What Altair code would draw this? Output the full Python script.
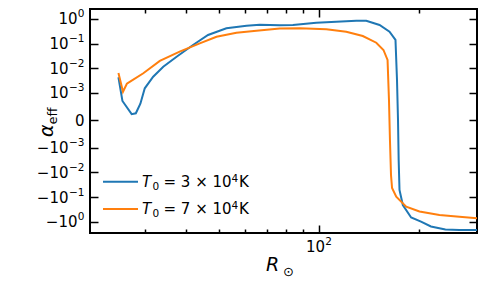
import altair as alt
import pandas as pd
import math

# ---- data ----
r_blue = [25.0, 25.7, 27.4, 28.2, 29.1, 30.0, 31.8, 34.1, 37.4, 41.9, 46.5, 52.8, 60.7, 66.5,
          76.4, 83.7, 98.4, 113.0, 129.8, 139.1, 152.5, 163.4, 170.3, 172.1, 173.3, 174.1,
          175.1, 179.2, 189.8, 203.2, 217.7, 240.6, 265.1, 300.3]
a_blue = [0.00432, 0.000706, 0.000224, 0.000257, 0.000607, 0.00154, 0.00456, 0.0116, 0.0295,
          0.0881, 0.224, 0.419, 0.535, 0.581, 0.560, 0.571, 0.708, 0.776, 0.853, 0.853, 0.571,
          0.305, 0.141, 0.00335, 0.000012, -0.00315, -0.0519, -0.211, -0.678, -1.00, -1.57,
          -2.08, -2.18, -2.18]
r_orange = [25.0, 25.8, 26.5, 27.1, 29.7, 33.3, 38.2, 43.9, 49.3, 56.6, 65.0, 76.4, 87.7, 105.5,
            121.1, 135.8, 149.1, 156.7, 161.2, 162.8, 163.9, 165.1, 166.3, 171.2, 183.4, 201.1,
            230.9, 265.1, 300.3]
a_orange = [0.00644, 0.00112, 0.00237, 0.00286, 0.00627, 0.0198, 0.0471, 0.103, 0.191, 0.278,
            0.335, 0.411, 0.419, 0.382, 0.305, 0.204, 0.109, 0.0552, 0.0217, 0.000742, -0.000718,
            -0.0128, -0.0431, -0.0971, -0.247, -0.387, -0.537, -0.630, -0.729]
series_names = ["T0=3e4K", "T0=7e4K"]
series_colors = ["#1f77b4", "#ff7f0e"]
legend_coef = ["3", "7"]

# y ticks: value, mantissa, exponent
y_tick_values = [1, 0.1, 0.01, 0.001, 0, -0.001, -0.01, -0.1, -1]
y_tick_mant = ["10", "10", "10", "10", "0", "\u221210", "\u221210", "\u221210", "\u221210"]
y_tick_exp = ["0", "\u22121", "\u22122", "\u22123", "", "\u22123", "\u22122", "\u22121", "0"]
x_major_ticks = [100]
x_major_mant = "10"
x_major_exp = "2"
x_minor_ticks = [30, 40, 50, 60, 70, 80, 90, 200]

# matplotlib-like symlog (linthresh 1e-3, linscale 1)
LT = 1e-3
LS = 1.0 / (1.0 - 0.1)


def symlog(v):
    if v > LT:
        return LS + math.log10(v / LT)
    if v < -LT:
        return -(LS + math.log10(-v / LT))
    return v / LT * LS


symlog_expr = (
    f"datum.alpha > {LT} ? {LS} + log(datum.alpha/{LT})/LN10 : "
    f"(datum.alpha < -{LT} ? -({LS} + log(-datum.alpha/{LT})/LN10) : datum.alpha/{LT}*{LS})"
)

rows = []
for name, rs, als in [(series_names[0], r_blue, a_blue), (series_names[1], r_orange, a_orange)]:
    for i, (r, a) in enumerate(zip(rs, als)):
        rows.append({"R": r, "alpha": a, "series": name, "idx": i})
df = pd.DataFrame(rows)

y_pos = [symlog(v) for v in y_tick_values]


def make_expr(pairs):
    e = "''"
    for p, lab in reversed(pairs):
        e = f"abs(datum.value - ({p:.5f})) < 0.01 ? '{lab}' : ({e})"
    return e


pos_unit = [p for p, x in zip(y_pos, y_tick_exp) if x == "0"]
pos_neg = [p for p, x in zip(y_pos, y_tick_exp) if x not in ("0", "")]
pos_zero = [p for p, x in zip(y_pos, y_tick_exp) if x == ""]
pos_exp = [p for p, x in zip(y_pos, y_tick_exp) if x != ""]
mant_pairs = list(zip(y_pos, y_tick_mant))
exp_pairs = list(zip(y_pos, y_tick_exp))

FONT = "DejaVu Sans"
FS = 15
FS_SUP = 10.5
xs = alt.Scale(type="log", domain=[20.53, 299.5], nice=False)
ys = alt.Scale(domain=[-4.571, 4.516], nice=False, zero=False)

common = dict(domain=False, grid=False, title=None, tickColor="black", tickWidth=1.5,
              labelFont=FONT, labelColor="black", labelFlush=False,
              labelOverlap=False, labelBound=False)

# tick-only axes (inward ticks via negative offset)
ax_b_major = alt.Axis(orient="bottom", values=x_major_ticks, labels=False, tickSize=8, offset=-8, **common)
ax_t_major = alt.Axis(orient="top", values=x_major_ticks, labels=False, tickSize=8, offset=-8, **common)
ax_b_minor = alt.Axis(orient="bottom", values=x_minor_ticks, labels=False, tickSize=4, offset=-4, **common)
ax_t_minor = alt.Axis(orient="top", values=x_minor_ticks, labels=False, tickSize=4, offset=-4, **common)
ax_l_ticks = alt.Axis(orient="left", values=y_pos, labels=False, tickSize=8, offset=-8, **common)
ax_r_ticks = alt.Axis(orient="right", values=y_pos, labels=False, tickSize=8, offset=-8, **common)

# label-only axes (mathtext-like: mantissa + raised smaller exponent)
ax_x_mant = alt.Axis(orient="bottom", values=x_major_ticks, ticks=False, tickSize=0,
                     labelExpr=f"'{x_major_mant}'", labelFontSize=FS, labelAlign="center",
                     labelOffset=-3.5, labelPadding=6, **common)
ax_x_exp = alt.Axis(orient="bottom", values=x_major_ticks, ticks=False, tickSize=0,
                    labelExpr=f"'{x_major_exp}'", labelFontSize=FS_SUP, labelAlign="center",
                    labelOffset=9.5, labelPadding=3, **common)
ax_y_mant_unit = alt.Axis(orient="left", values=pos_unit, ticks=False, tickSize=0,
                          labelExpr=make_expr(mant_pairs), labelFontSize=FS, labelAlign="right",
                          labelPadding=13, **common)
ax_y_mant_neg = alt.Axis(orient="left", values=pos_neg, ticks=False, tickSize=0,
                         labelExpr=make_expr(mant_pairs), labelFontSize=FS, labelAlign="right",
                         labelPadding=22, **common)
ax_y_exp = alt.Axis(orient="left", values=pos_exp, ticks=False, tickSize=0,
                    labelExpr=make_expr(exp_pairs), labelFontSize=FS_SUP, labelAlign="right",
                    labelOffset=-5, labelPadding=6, **common)
ax_y_zero = alt.Axis(orient="left", values=pos_zero, ticks=False, tickSize=0,
                     labelExpr=make_expr(mant_pairs), labelFontSize=FS, labelAlign="right",
                     labelPadding=6, **common)

base = alt.Chart(df).transform_calculate(f=symlog_expr)

lines = base.mark_line(strokeWidth=2, clip=True).encode(
    x=alt.X("R:Q", scale=xs, axis=ax_b_major),
    y=alt.Y("f:Q", scale=ys, axis=ax_l_ticks),
    color=alt.Color("series:N", scale=alt.Scale(domain=series_names, range=series_colors),
                    legend=None),
    order="idx:Q",
)


def ghost(xax, yax):
    return base.mark_line(opacity=0).encode(
        x=alt.X("R:Q", scale=xs, axis=xax),
        y=alt.Y("f:Q", scale=ys, axis=yax), detail="series:N", order="idx:Q")


ghosts = [
    ghost(ax_t_major, ax_r_ticks),
    ghost(ax_b_minor, None),
    ghost(ax_t_minor, None),
    ghost(ax_x_mant, ax_y_mant_unit),
    ghost(ax_x_exp, ax_y_mant_neg),
    ghost(None, ax_y_exp),
    ghost(None, ax_y_zero),
]

one = alt.Data(values=[{}])
OX, OY = 90, 9  # plot origin in page pixels (for decorations)


def txt(s, x, y, size=FS, style="normal", angle=0):
    kw = dict(font=FONT, fontSize=size, fontStyle=style, align="left", baseline="alphabetic",
              color="black")
    if angle:
        kw["angle"] = angle
    return alt.Chart(one).mark_text(**kw).encode(x=alt.value(x - OX), y=alt.value(y - OY),
                                                    text=alt.value(s))


extras = []
# legend (drawn by hand, matplotlib style without frame)
for k in range(2):
    ly = 181.7 + 27.3 * k
    extras.append(alt.Chart(one).mark_rule(color=series_colors[k], strokeWidth=2).encode(
        x=alt.value(103 - OX), x2=alt.value(138 - OX), y=alt.value(ly - OY)))
    extras.append(txt("T", 142, ly + 5, style="italic"))
    extras.append(txt("0", 152.5, ly + 8.3, size=FS_SUP))
    extras.append(txt(f"= {legend_coef[k]} \u00d7 10", 163.5, ly + 5))
    extras.append(txt("4", 231.5, ly, size=FS_SUP))
    extras.append(txt("K", 239, ly + 5))
# axis titles
extras.append(txt("R", 266, 271, size=19, style="italic"))
extras.append(txt("\u2299", 283, 276, size=13))
extras.append(txt("\u03b1", 53, 137, size=19, style="italic", angle=270))
extras.append(txt("eff", 56.5, 124.5, size=13, angle=270))

chart = alt.layer(lines, *ghosts, *extras).resolve_axis(
    x="independent", y="independent"
).properties(
    width=387, height=224,
    autosize=alt.AutoSizeParams(type="none"),
    padding={"left": 82, "top": 1, "right": 1, "bottom": 45},
).configure_view(stroke="black", strokeWidth=2)

chart.save("out.html", embed_options={"renderer": "svg", "actions": False})
